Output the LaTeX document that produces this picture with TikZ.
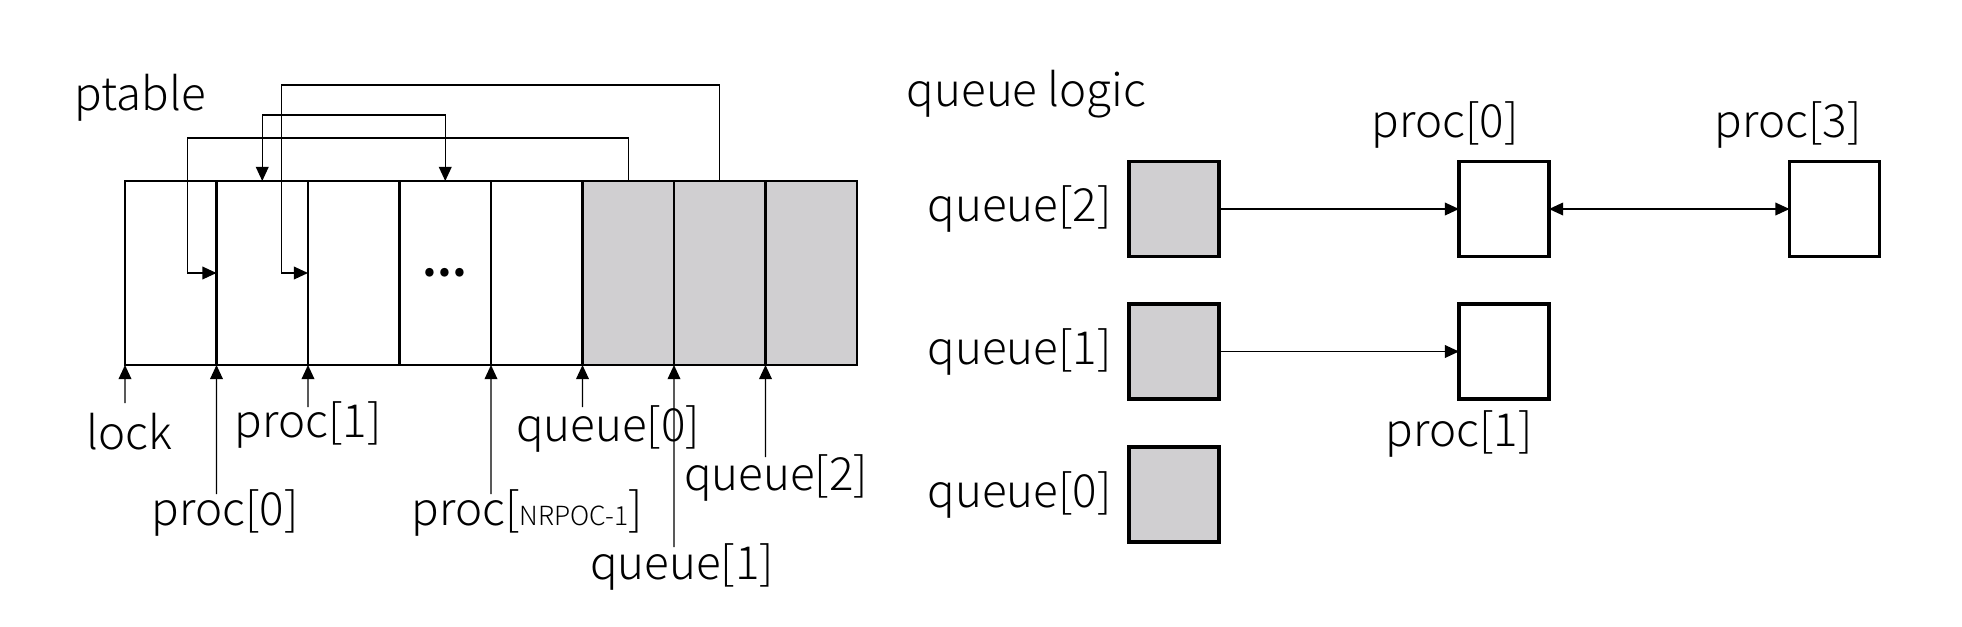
\documentclass[tikz,border=0pt]{standalone}
\usepackage{fontspec}
\setmainfont{Noto Sans CJK SC}[UprightFont=* Light]
\usepackage{tikz}
\usetikzlibrary{arrows.meta}
\usetikzlibrary{positioning}
\definecolor{slotgray}{RGB}{208,207,209}

\begin{document}
\begin{tikzpicture}
    [
    font=\fontsize{13}{15}\selectfont,
    cell/.style={draw,line width=0.8pt,inner sep=0pt,outer sep=0pt,minimum width=9.15mm,minimum height=18.4mm},
    qcell/.style={cell,fill=slotgray},
    box/.style={draw,line width=0.9pt,inner sep=0pt,outer sep=0pt,minimum width=9mm,minimum height=9.5mm},
    qbox/.style={box,fill=slotgray},
    link/.style={-{Triangle[length=4pt,width=3.6pt]},line width=0.4pt},
    dlink/.style={{Triangle[length=4pt,width=3.6pt]}-{Triangle[length=4pt,width=3.6pt]},line width=0.4pt},
    ]
    \useasboundingbox (0,0) rectangle (19.62,-6.26);

    % ptable
    \node (ptitle) at (0.625,-0.98) [anchor=west] {ptable};
    \node (c1) at (1.7075,-2.73) [cell] {};
    \node (c2) at (2.6225,-2.73) [cell] {};
    \node (c3) at (3.5375,-2.73) [cell] {};
    \node (c4) at (4.4525,-2.73) [cell] {\textbf{...}};
    \node (c5) at (5.3675,-2.73) [cell] {};
    \node (c6) at (6.2825,-2.73) [qcell] {};
    \node (c7) at (7.1975,-2.73) [qcell] {};
    \node (c8) at (8.1125,-2.73) [qcell] {};

    \draw [link] (c6.north) -- ++(0,0.43) -| ([xshift=-2.9mm]c2.west) -- (c2.west);
    \draw [link] (c7.north) -- ++(0,0.96) -| ([xshift=-2.65mm]c3.west) -- (c3.west);
    \draw [dlink] (c2.north) -- ++(0,0.66) -| (c4.north);

    \coordinate (elock) at (1.25,-4.03);
    \coordinate (eproc0) at (2.165,-4.94);
    \coordinate (eproc1) at (3.08,-4.07);
    \coordinate (eprocn) at (4.91,-4.94);
    \coordinate (equeue0) at (5.825,-4.07);
    \coordinate (equeue1) at (6.74,-5.47);
    \coordinate (equeue2) at (7.655,-4.57);
    \draw [link] (elock) to (c1.south west);
    \draw [link] (eproc0) to (c2.south west);
    \draw [link] (eproc1) to (c3.south west);
    \draw [link] (eprocn) to (c5.south west);
    \draw [link] (equeue0) to (c6.south west);
    \draw [link] (equeue1) to (c7.south west);
    \draw [link] (equeue2) to (c8.south west);

    \node (llock) at (1.29,-4.32) {lock};
    \node (lproc0) at (2.25,-5.13) {proc[0]};
    \node (lproc1) at (3.08,-4.25) {proc[1]};
    \node (lprocn) at (5.27,-5.13) {proc[{\fontsize{7.5}{9}\selectfont NRPOC-1}]};
    \node (lqueue0) at (6.08,-4.29) {queue[0]};
    \node (lqueue1) at (6.82,-5.67) {queue[1]};
    \node (lqueue2) at (7.76,-4.78) {queue[2]};

    % queue logic
    \node (qtitle) at (8.945,-0.94) [anchor=west] {queue logic};
    \node (q2) at (11.74,-2.09) [qbox] {};
    \node (q1) at (11.74,-3.515) [qbox] {};
    \node (q0) at (11.74,-4.945) [qbox] {};
    \node (p0) at (15.04,-2.09) [box] {};
    \node (p1) at (15.04,-3.515) [box] {};
    \node (p3) at (18.345,-2.09) [box] {};

    \node (lq2) [left=0.5mm of q2] {queue[2]};
    \node (lq1) [left=0.5mm of q1] {queue[1]};
    \node (lq0) [left=0.5mm of q0] {queue[0]};
    \node (lp0) at (14.45,-1.25) {proc[0]};
    \node (lp3) at (17.88,-1.25) {proc[3]};
    \node (lp1) at (14.59,-4.34) {proc[1]};

    \draw [link] (q2) to (p0);
    \draw [dlink] (p0) to (p3);
    \draw [link] (q1) to (p1);
  \end{tikzpicture}
\end{document}
